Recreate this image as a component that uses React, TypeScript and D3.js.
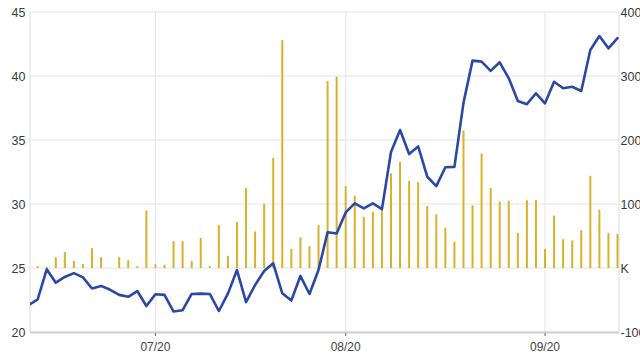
import React from "react";
import * as d3 from "d3";

// price series (left axis), one value per trading day
const prices: number[] = [
  22.1, 22.55, 24.9, 23.85, 24.3, 24.6, 24.27, 23.4, 23.6, 23.3,
  22.9, 22.75, 23.2, 22.03, 22.95, 22.9, 21.6, 21.7, 22.97, 23.0,
  22.97, 21.64, 23.0, 24.84, 22.34, 23.67, 24.77, 25.37, 23.02, 22.46,
  24.38, 22.97, 24.84, 27.79, 27.7, 29.34, 30.05, 29.66, 30.05, 29.6,
  34.06, 35.78, 33.9, 34.5, 32.13, 31.4, 32.87, 32.9, 37.9, 41.2,
  41.12, 40.4, 41.07, 39.82, 38.05, 37.8, 38.65, 37.87, 39.55, 39.04,
  39.16, 38.83, 42.03, 43.12, 42.16, 42.95,
];

// volume series in K (right axis)
const volumes: number[] = [
  4, 3, 2, 17, 25, 11, 6, 31, 17, 0,
  17, 12, 3, 90, 6, 5, 42, 42, 11, 47,
  3, 67, 19, 72, 125, 57, 100, 172, 356, 30,
  48, 34, 67, 292, 299, 128, 113, 80, 88, 98,
  148, 166, 136, 134, 97, 84, 63, 41, 215, 98,
  179, 125, 104, 105, 55, 106, 106, 30, 82, 45,
  43, 59, 144, 91, 55, 53,
];

const xTickIndex: number[] = [14, 35, 57];
const xTickLabels: string[] = ["07/20", "08/20", "09/20"];
const leftTicks: number[] = [20, 25, 30, 35, 40, 45];
const rightTicks: number[] = [-100, 0, 100, 200, 300, 400];
const rightTickLabels: string[] = ["-100", "K", "100", "200", "300", "400"];

export default function App() {
  const W = 640;
  const H = 360;
  const plotL = 30;
  const plotR = 619;
  const plotT = 12;
  const plotB = 332;

  const x = d3.scaleLinear().domain([0, prices.length - 1]).range([28.6, 617.5]);
  const yL = d3.scaleLinear().domain([20, 45]).range([plotB, plotT]);
  const yR = d3.scaleLinear().domain([-100, 400]).range([plotB, plotT]);

  const line = d3
    .line<number>()
    .x((_, i) => x(i))
    .y((d) => yL(d));

  const barW = 2;
  const font = "'Liberation Sans', Arial, sans-serif";

  return (
    <svg
      width={W}
      height={H}
      style={{ position: "absolute", left: 0, top: 0, background: "#fff" }}
    >
      <defs>
        <clipPath id="plotClip">
          <rect x={plotL} y={plotT} width={plotR - plotL} height={plotB - plotT} />
        </clipPath>
      </defs>
      {/* horizontal grid */}
      {leftTicks.map((t) => (
        <line
          key={"h" + t}
          x1={plotL}
          x2={plotR}
          y1={yL(t)}
          y2={yL(t)}
          stroke="#e4e4e4"
          strokeWidth={1}
        />
      ))}
      {/* vertical grid */}
      {xTickIndex.map((i) => (
        <line
          key={"v" + i}
          x1={x(i)}
          x2={x(i)}
          y1={plotT}
          y2={plotB}
          stroke="#e4e4e4"
          strokeWidth={1}
        />
      ))}
      {/* plot frame sides */}
      <line x1={plotL} x2={plotL} y1={plotT} y2={plotB} stroke="#dcdcdc" />
      <line x1={plotR} x2={plotR} y1={plotT} y2={plotB} stroke="#dcdcdc" />
      <g clipPath="url(#plotClip)">
        {volumes.map((v, i) => (
          <rect
            key={"b" + i}
            x={x(i) - barW / 2}
            y={Math.min(yR(v), yR(0))}
            width={barW}
            height={Math.abs(yR(0) - yR(v))}
            fill="#d8b22c"
          />
        ))}
        <path
          d={line(prices) || ""}
          fill="none"
          stroke="#2c48a6"
          strokeWidth={2.6}
          strokeLinejoin="round"
          strokeLinecap="round"
        />
      </g>
      {/* bottom axis line */}
      <line x1={plotL} x2={plotR} y1={plotB + 0.5} y2={plotB + 0.5} stroke="#cfcfcf" strokeWidth={2} />
      {xTickIndex.map((i, k) => (
        <g key={"xt" + i}>
          <line x1={x(i)} x2={x(i)} y1={plotB + 1} y2={plotB + 4} stroke="#666" />
          <text
            x={x(i)}
            y={351}
            textAnchor="middle"
            fontFamily={font}
            fontSize={12}
            fill="#444"
          >
            {xTickLabels[k]}
          </text>
        </g>
      ))}
      {/* left axis labels */}
      {leftTicks.map((t) => (
        <text
          key={"lt" + t}
          x={25.5}
          y={yL(t) + 4.5}
          textAnchor="end"
          fontFamily={font}
          fontSize={12.5}
          fill="#3a3a3a"
        >
          {t}
        </text>
      ))}
      {/* right axis labels */}
      {rightTicks.map((t, k) => (
        <text
          key={"rt" + t}
          x={620.5}
          y={yR(t) + 4.5}
          textAnchor="start"
          fontFamily={font}
          fontSize={12.5}
          fill="#3a3a3a"
        >
          {rightTickLabels[k]}
        </text>
      ))}
    </svg>
  );
}
